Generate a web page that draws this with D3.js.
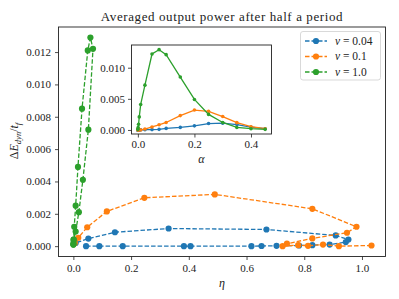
<!DOCTYPE html>
<html>
<head>
<meta charset="utf-8">
<style>
    body { margin: 0; background: #fff; }
    svg { display: block; }
    text { font-family: "Liberation Serif", "DejaVu Serif", serif; fill: #222; }
</style>
</head>
<body>
<script src="https://d3js.org/d3.v7.min.js"></script>
<script>
    const width = 399;
    const height = 299;

    const series = [
        { name: "0.04", color: "#1f77b4" },
        { name: "0.1",  color: "#ff7f0e" },
        { name: "1.0",  color: "#2ca02c" }
    ];

    // v = 0.04
    const alpha_b = [0, 0.0001, 0.0002, 0.0005, 0.001, 0.002, 0.005, 0.01, 0.025, 0.05, 0.075, 0.1, 0.15, 0.2, 0.25, 0.3, 0.35, 0.4, 0.45];
    const eta_b   = [0.044, 0.090, 0.171, 0.383, 0.406, 0.617, 0.652, 0.704, 0.782, 0.828, 0.888, 0.944, 0.953, 0.909, 0.669, 0.330, 0.144, 0.052, 0.008];
    const E_b     = [0.0, 0.0, 0.0, 0.0, 0.0, 0.0, 0.00001, 0.00002, 0.00004, 0.00006, 0.0001, 0.00025, 0.00041, 0.00066, 0.00103, 0.00109, 0.00086, 0.00047, 0.0002];

    // v = 0.1
    const alpha_o = [0, 0.0005, 0.001, 0.002, 0.005, 0.01, 0.025, 0.05, 0.075, 0.1, 0.15, 0.2, 0.25, 0.3, 0.35, 0.4, 0.45];
    const eta_o   = [1.033, 0.920, 0.865, 0.813, 0.779, 0.725, 0.740, 0.828, 0.948, 0.981, 0.828, 0.490, 0.246, 0.116, 0.048, 0.017, 0.005];
    const E_o     = [0.00004, 0.0, 0.0001, 0.00002, 0.00006, 0.0, 0.00015, 0.00048, 0.00083, 0.0012, 0.00231, 0.0032, 0.00299, 0.00215, 0.00117, 0.00052, 0.0002];

    // v = 1.0
    const alpha_g = [0, 0.001, 0.0025, 0.005, 0.01, 0.025, 0.05, 0.075, 0.1, 0.15, 0.2, 0.25, 0.3, 0.35, 0.4, 0.45];
    const eta_g   = [0.0, 0.001, 0.008, 0.019, 0.033, 0.052, 0.068, 0.059, 0.050, 0.030, 0.016, 0.008, 0.003, 0.001, 0.0005, 0.0];
    const E_g     = [0.0001, 0.0004, 0.0009, 0.0021, 0.0041, 0.0072, 0.0122, 0.0129, 0.0121, 0.0085, 0.0049, 0.0025, 0.0012, 0.0004, 0.0002, 0.0001];

    const xTicks = [0, 0.2, 0.4, 0.6, 0.8, 1.0];
    const yTicks = [0, 0.002, 0.004, 0.006, 0.008, 0.010, 0.012];
    const insetXTicks = [0, 0.2, 0.4];
    const insetYTicks = [0, 0.005, 0.010];

    const data = [
        { s: series[0], alpha: alpha_b, eta: eta_b, E: E_b },
        { s: series[1], alpha: alpha_o, eta: eta_o, E: E_o },
        { s: series[2], alpha: alpha_g, eta: eta_g, E: E_g }
    ];

    const svg = d3.select("body").append("svg").attr("width", width).attr("height", height);

    // main axes
    const x = d3.scaleLinear().domain([-0.0515, 1.0815]).range([58.5, 385.5]);
    const y = d3.scaleLinear().domain([-0.00064, 0.01355]).range([256.5, 27]);

    const main = svg.append("g");
    main.append("rect").attr("x", 58.5).attr("y", 27).attr("width", 327).attr("height", 229.5)
        .attr("fill", "#fff");

    const dash = "4.5,2";
    data.forEach(d => {
        const pts = d.eta.map((e, i) => [x(e), y(d.E[i])]);
        main.append("path").attr("d", d3.line()(pts))
            .attr("fill", "none").attr("stroke", d.s.color).attr("stroke-width", 1.3)
            .attr("stroke-dasharray", dash);
        main.selectAll(null).data(pts).enter().append("circle")
            .attr("cx", p => p[0]).attr("cy", p => p[1]).attr("r", 3.1)
            .attr("fill", d.s.color);
    });

    const gx = main.append("g").attr("transform", "translate(0,256.5)")
        .call(d3.axisBottom(x).tickValues(xTicks).tickFormat(d3.format(".1f")).tickSize(3.5).tickPadding(4));
    const gy = main.append("g").attr("transform", "translate(58.5,0)")
        .call(d3.axisLeft(y).tickValues(yTicks).tickFormat(d3.format(".3f")).tickSize(3.5).tickPadding(4));
    [gx, gy].forEach(g => {
        g.select(".domain").remove();
        g.selectAll("text").attr("font-size", 11).attr("fill", "#333");
        g.selectAll("line").attr("stroke", "#222").attr("stroke-width", 0.8);
    });
    main.append("rect").attr("x", 58.5).attr("y", 27).attr("width", 327).attr("height", 229.5)
        .attr("fill", "none").attr("stroke", "#222").attr("stroke-width", 0.9);

    // title and labels
    svg.append("text").attr("x", 222).attr("y", 21).attr("text-anchor", "middle")
        .attr("font-size", 13).attr("letter-spacing", 0.6)
        .text("Averaged output power after half a period");
    svg.append("text").attr("x", 222).attr("y", 287).attr("text-anchor", "middle")
        .attr("font-size", 12).attr("font-style", "italic").text("η");

    const yl = svg.append("text").attr("transform", "translate(18,141) rotate(-90)")
        .attr("text-anchor", "middle").attr("font-size", 12);
    yl.append("tspan").text("Δ");
    yl.append("tspan").attr("font-style", "italic").text("E");
    yl.append("tspan").attr("font-style", "italic").attr("font-size", 8.5).attr("dy", 2.5).text("dyn");
    yl.append("tspan").attr("dy", -2.5).text("/");
    yl.append("tspan").attr("font-style", "italic").text("t");
    yl.append("tspan").attr("font-style", "italic").attr("font-size", 8.5).attr("dy", 2.5).text("f");

    // legend
    const lg = svg.append("g");
    lg.append("rect").attr("x", 300.5).attr("y", 31.5).attr("width", 80).attr("height", 48.5)
        .attr("rx", 2.5).attr("fill", "#fff").attr("fill-opacity", 0.85)
        .attr("stroke", "#d5d5d5").attr("stroke-width", 0.9);
    series.forEach((s, i) => {
        const ly = 41 + i * 15.5;
        lg.append("line").attr("x1", 305).attr("x2", 327).attr("y1", ly).attr("y2", ly)
            .attr("stroke", s.color).attr("stroke-width", 1.3).attr("stroke-dasharray", dash);
        lg.append("circle").attr("cx", 316).attr("cy", ly).attr("r", 3.1).attr("fill", s.color);
        const t = lg.append("text").attr("x", 335).attr("y", ly + 3.8).attr("font-size", 11.5);
        t.append("tspan").attr("font-style", "italic").text("v");
        t.append("tspan").text(" = " + s.name);
    });

    // inset
    const ix = d3.scaleLinear().domain([-0.0225, 0.4725]).range([131.5, 271.5]);
    const iy = d3.scaleLinear().domain([-0.00065, 0.01365]).range([134, 45]);
    const ins = svg.append("g");
    ins.append("rect").attr("x", 131.5).attr("y", 45).attr("width", 140).attr("height", 89)
        .attr("fill", "#fff");
    data.forEach(d => {
        const pts = d.alpha.map((a, i) => [ix(a), iy(d.E[i])]);
        ins.append("path").attr("d", d3.line()(pts))
            .attr("fill", "none").attr("stroke", d.s.color).attr("stroke-width", 1.3);
        ins.selectAll(null).data(pts).enter().append("circle")
            .attr("cx", p => p[0]).attr("cy", p => p[1]).attr("r", 1.8)
            .attr("fill", d.s.color);
    });
    const igx = ins.append("g").attr("transform", "translate(0,134)")
        .call(d3.axisBottom(ix).tickValues(insetXTicks).tickFormat(d3.format(".1f")).tickSize(3.5).tickPadding(3));
    const igy = ins.append("g").attr("transform", "translate(131.5,0)")
        .call(d3.axisLeft(iy).tickValues(insetYTicks).tickFormat(d3.format(".3f")).tickSize(3.5).tickPadding(3));
    [igx, igy].forEach(g => {
        g.select(".domain").remove();
        g.selectAll("text").attr("font-size", 11).attr("fill", "#333");
        g.selectAll("line").attr("stroke", "#222").attr("stroke-width", 0.8);
    });
    ins.append("rect").attr("x", 131.5).attr("y", 45).attr("width", 140).attr("height", 89)
        .attr("fill", "none").attr("stroke", "#222").attr("stroke-width", 0.9);
    svg.append("text").attr("x", 201.5).attr("y", 163).attr("text-anchor", "middle")
        .attr("font-size", 12).attr("font-style", "italic").text("α");
</script>
</body>
</html>
